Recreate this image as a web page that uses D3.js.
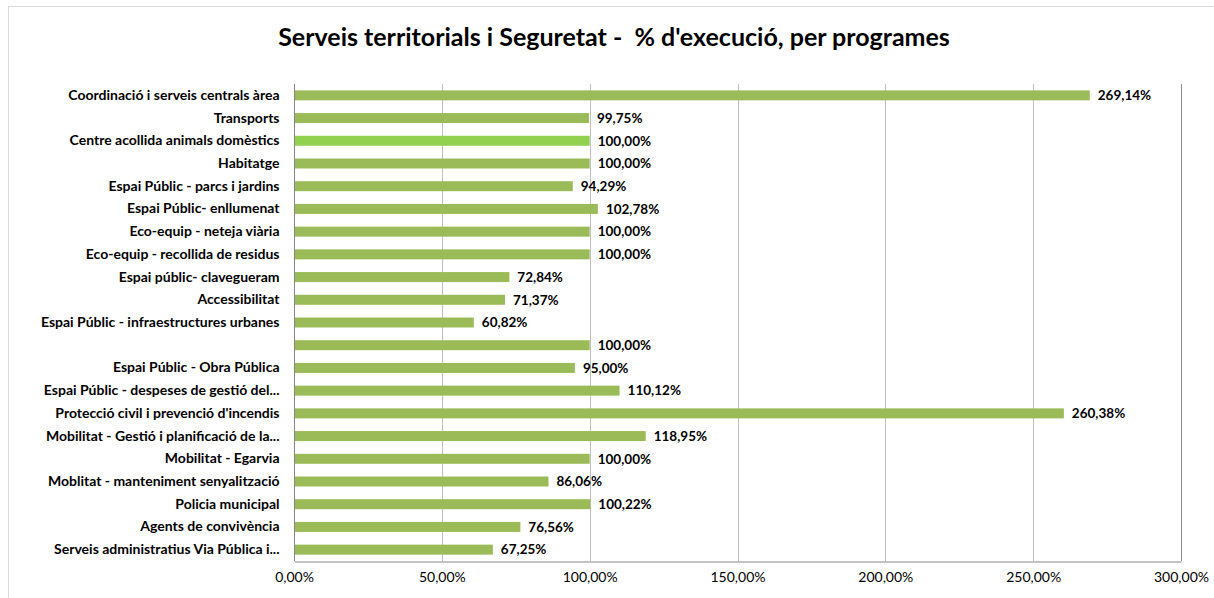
<!DOCTYPE html>
<html>
<head>
<meta charset="utf-8">
<script src="https://cdn.jsdelivr.net/npm/d3@7"></script>
<style>
  body { margin: 0; background: #fff; }
  svg text { font-family: Lato, "Noto Sans", sans-serif; fill: #000; }
</style>
</head>
<body>
<svg id="chart" width="1214" height="598"></svg>
<script>
// programes (de dalt a baix)
var categories = [
  "Coordinació i serveis centrals àrea",
  "Transports",
  "Centre acollida animals domèstics",
  "Habitatge",
  "Espai Públic - parcs i jardins",
  "Espai Públic- enllumenat",
  "Eco-equip - neteja viària",
  "Eco-equip - recollida de residus",
  "Espai públic- clavegueram",
  "Accessibilitat",
  "Espai Públic - infraestructures urbanes",
  "",
  "Espai Públic - Obra Pública",
  "Espai Públic - despeses de gestió del...",
  "Protecció civil i prevenció d'incendis",
  "Mobilitat - Gestió i planificació de la...",
  "Mobilitat - Egarvia",
  "Moblitat - manteniment senyalització",
  "Policia municipal",
  "Agents de convivència",
  "Serveis administratius Via Pública i..."
];

// % d'execució
var values = [269.14, 99.75, 100.00, 100.00, 94.29, 102.78, 100.00, 100.00, 72.84, 71.37,
              60.82, 100.00, 95.00, 110.12, 260.38, 118.95, 100.00, 86.06, 100.22, 76.56, 67.25];

var xTicks = [0, 50, 100, 150, 200, 250, 300];

var titleText = "Serveis territorials i Seguretat -  % d'execució, per programes";

var barColor = "#9bbb59";
var highlightColor = "#92d050";
var highlightIndex = 2;

var svg = d3.select("#chart");

var plot = { left: 294, right: 1181, top: 84, bottom: 561 };

var ca = d3.formatLocale({ decimal: ",", thousands: ".", grouping: [3], currency: ["", " €"] });
var fmt = ca.format(".2%");

var x = d3.scaleLinear().domain([0, 300]).range([plot.left, plot.right]);
var y = d3.scaleBand()
  .domain(d3.range(categories.length))
  .range([plot.top, plot.bottom])
  .paddingInner(0.56)
  .paddingOuter(0.28);

// chart border
svg.append("line").attr("x1", 8.5).attr("x2", 8.5).attr("y1", 6).attr("y2", 598)
  .attr("stroke", "#d9d9d9");
svg.append("line").attr("x1", 8).attr("x2", 1214).attr("y1", 6.5).attr("y2", 6.5)
  .attr("stroke", "#d9d9d9");

// title
svg.append("text")
  .attr("x", 614)
  .attr("y", 46)
  .attr("text-anchor", "middle")
  .style("white-space", "pre")
  .style("font-size", "25px")
  .style("font-weight", "bold")
  .text(titleText);

// gridlines
svg.append("g").selectAll("line")
  .data(xTicks.slice(1))
  .join("line")
  .attr("x1", d => Math.round(x(d)) + 0.5)
  .attr("x2", d => Math.round(x(d)) + 0.5)
  .attr("y1", plot.top)
  .attr("y2", plot.bottom)
  .attr("stroke", d => d == 300 ? "#8c8c8c" : "#bfbfbf");

// bars
svg.append("g").selectAll("rect")
  .data(values)
  .join("rect")
  .attr("x", x(0))
  .attr("y", (d, i) => y(i))
  .attr("width", d => x(d) - x(0))
  .attr("height", y.bandwidth())
  .attr("fill", (d, i) => i == highlightIndex ? highlightColor : barColor);

// value labels
svg.append("g").selectAll("text")
  .data(values)
  .join("text")
  .attr("x", d => x(d) + 8)
  .attr("y", (d, i) => y(i) + y.bandwidth() / 2)
  .attr("dy", "0.35em")
  .style("font-size", "13.5px")
  .style("font-weight", "bold")
  .text(d => fmt(d / 100));

// category axis
var yAxis = svg.append("g")
  .attr("transform", "translate(" + (plot.left + 0.5) + ",0)")
  .call(d3.axisLeft(y).tickSize(0).tickPadding(15).tickFormat(i => categories[i]));
yAxis.select(".domain").attr("stroke", "#868686").attr("d", "M0," + plot.top + "V" + plot.bottom);
yAxis.selectAll("text")
  .style("font-family", "Lato, 'Noto Sans', sans-serif")
  .style("font-size", "14px")
  .style("font-weight", "bold")
  .attr("fill", "#000");

// value axis
var xAxis = svg.append("g")
  .attr("transform", "translate(0," + (plot.bottom + 0.5) + ")")
  .call(d3.axisBottom(x).tickValues(xTicks).tickSize(0).tickPadding(11).tickFormat(d => fmt(d / 100)));
xAxis.select(".domain").attr("stroke", "#868686");
xAxis.selectAll("text")
  .style("font-family", "Lato, 'Noto Sans', sans-serif")
  .style("font-size", "14px")
  .attr("fill", "#000");
</script>
</body>
</html>
